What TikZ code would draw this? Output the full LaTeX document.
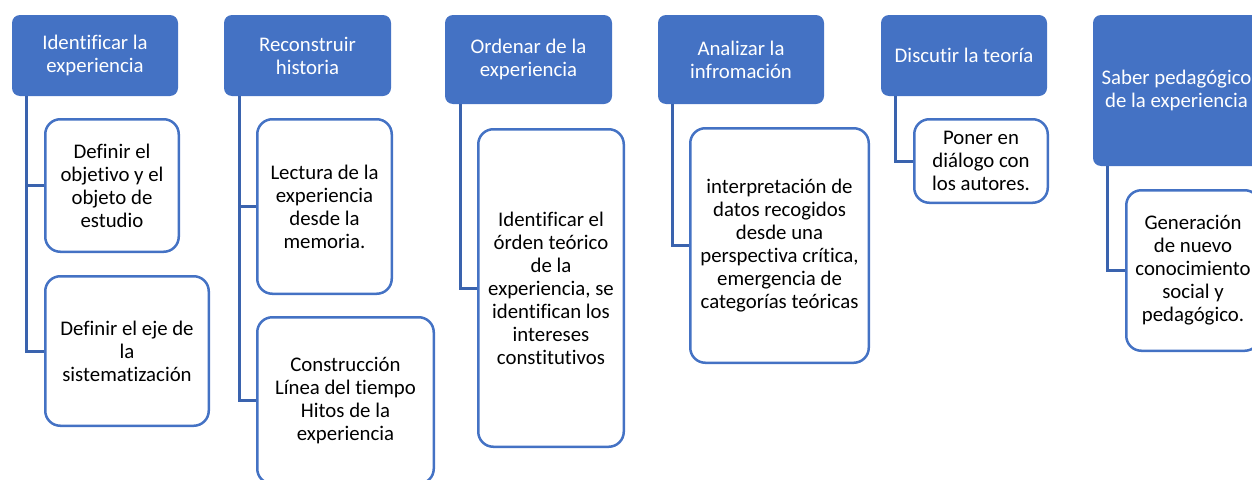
\documentclass[tikz,border=0pt]{standalone}
\usepackage{fontspec}
\setmainfont{Carlito}[Ligatures={NoCommon,NoRare,NoContextual},RawFeature={-liga;-clig;-dlig;-calt;-hlig}]
\definecolor{hdrblue}{HTML}{4472C4}
\definecolor{connblue}{HTML}{3A63AE}
\begin{document}
\begin{tikzpicture}[x=1pt,y=-1pt,
  hdr/.style={rectangle, rounded corners=8pt, fill=hdrblue, text=white, align=center, inner sep=0pt, font=\fontsize{20.8}{23}\selectfont},
  child/.style={rectangle, rounded corners=15pt, draw=hdrblue, line width=2.5pt, fill=white, text=black, align=center, inner sep=0pt, font=\fontsize{20.8}{23}\selectfont},
  conn/.style={draw=connblue, line width=3pt}]
\useasboundingbox (0,0) rectangle (1252,479);
\clip (0,0) rectangle (1252,479);
% headers
\node[hdr, minimum width=166pt, minimum height=81pt] (h1) at (95,55.5) {Identificar la\\experiencia};
\node[hdr, minimum width=167pt, minimum height=81pt] (h2) at (307.5,55.5) {Reconstruir\\historia};
\node[hdr, minimum width=167pt, minimum height=89pt] (h3) at (528.5,59.5) {Ordenar de la\\experiencia};
\node[hdr, minimum width=166pt, minimum height=89pt] (h4) at (741,59.5) {Analizar la\\infromación};
\node[hdr, minimum width=166pt, minimum height=81pt] (h5) at (964,55.5) {Discutir la teoría};
\node[hdr, minimum width=167pt, minimum height=151pt] (h6) at (1176.5,90.5) {Saber pedagógico\\de la experiencia};
% children
\node[child, minimum width=133.5pt, minimum height=132.5pt] (c11) at (112,185.5) {Definir el\\objetivo y el\\objeto de\\estudio};
\node[child, minimum width=163.5pt, minimum height=149.5pt] (c12) at (127,351) {Definir el eje de\\la\\sistematización};
\node[child, minimum width=134.5pt, minimum height=174.5pt] (c21) at (324.5,206.5) {Lectura de la\\experiencia\\desde la\\memoria.};
\node[child, minimum width=176.5pt, minimum height=166.5pt] (c22) at (345.5,400.5) {Construcción\\Línea del tiempo\\Hitos de la\\experiencia};
\node[child, minimum width=145.5pt, minimum height=317.5pt] (c31) at (551,288) {Identificar el\\órden teórico\\de la\\experiencia, se\\identifican los\\intereses\\constitutivos};
\node[child, minimum width=178.5pt, minimum height=234.5pt] (c41) at (779.5,245.5) {interpretación de\\datos recogidos\\desde una\\perspectiva crítica,\\emergencia de\\categorías teóricas};
\node[child, minimum width=133.5pt, minimum height=83.5pt] (c51) at (981,161) {Poner en\\diálogo con\\los autores.};
\node[child, minimum width=133.5pt, minimum height=160.5pt] (c61) at (1193,270.5) {Generación\\de nuevo\\conocimiento\\social y\\pedagógico.};
% connectors
\draw[conn] ([xshift=15pt]h1.south west) |- (c11.west);
\draw[conn] ([xshift=15pt]h1.south west) |- (c12.west);
\draw[conn] ([xshift=16pt]h2.south west) |- (c21.west);
\draw[conn] ([xshift=16pt]h2.south west) |- (c22.west);
\draw[conn] ([xshift=16pt]h3.south west) |- (c31.west);
\draw[conn] ([xshift=15pt]h4.south west) |- (c41.west);
\draw[conn] ([xshift=15pt]h5.south west) |- (c51.west);
\draw[conn] ([xshift=15pt]h6.south west) |- (c61.west);
\end{tikzpicture}
\end{document}
